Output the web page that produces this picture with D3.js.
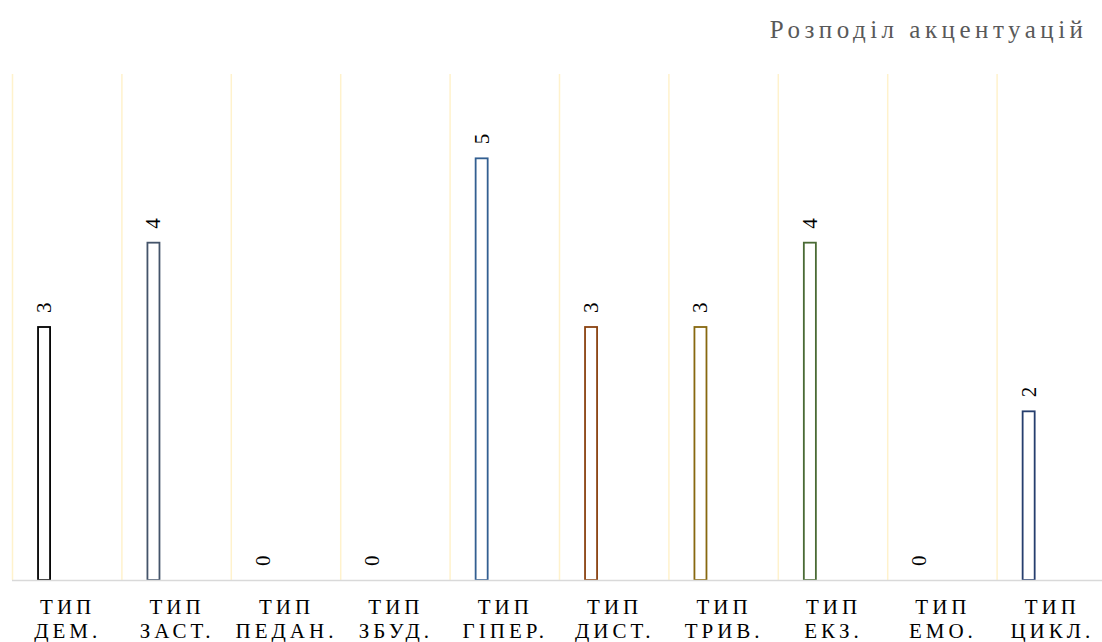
<!DOCTYPE html>
<html>
<head>
<meta charset="utf-8">
<script src="https://cdn.jsdelivr.net/npm/d3@7"></script>
<style>
  html, body { margin: 0; padding: 0; background: #ffffff; }
  svg { display: block; }
</style>
</head>
<body>
<svg id="chart" width="1102" height="642"></svg>
<script>
// Accentuation types (two-line category labels)
const categoryTop = ["ТИП", "ТИП", "ТИП", "ТИП", "ТИП", "ТИП", "ТИП", "ТИП", "ТИП", "ТИП"];
const categoryBottom = ["ДЕМ.", "ЗАСТ.", "ПЕДАН.", "ЗБУД.", "ГІПЕР.", "ДИСТ.", "ТРИВ.", "ЕКЗ.", "ЕМО.", "ЦИКЛ."];
const values = [3, 4, 0, 0, 5, 3, 3, 4, 0, 2];
const barColors = ["#000000", "#44546A", "#A5A5A5", "#7F7F7F", "#335F91", "#8A4210", "#87680F", "#4A6B35", "#5B7FB8", "#263E6E"];
const titleText = "Розподіл акцентуацій";

const svg = d3.select("#chart");
const W = 1102, H = 642;
const plot = { left: 12, right: 1106, top: 74, bottom: 580 };
const serif = "'Liberation Serif', 'Times New Roman', serif";

const keys = d3.range(values.length);
const points = keys.map(i => ({ i, value: values[i], color: barColors[i] }));
const x = d3.scaleBand().domain(keys).range([plot.left, plot.right]).padding(0);
const y = d3.scaleLinear().domain([0, 6]).range([plot.bottom, plot.top]);

// bar placement inside each category band
const barOffset = 0.238, barWidth = 0.11;
const barCenter = i => x(i) + x.bandwidth() * (barOffset + barWidth / 2);

// vertical category separators
svg.append("g")
  .selectAll("line")
  .data(keys)
  .join("line")
  .attr("x1", d => x(d) + 0.5)
  .attr("x2", d => x(d) + 0.5)
  .attr("y1", y(6))
  .attr("y2", y(0))
  .attr("stroke", "#FFF2CC")
  .attr("stroke-width", 1.5);

// bars (outlined)
svg.append("g")
  .selectAll("rect")
  .data(points.filter(p => p.value > 0))
  .join("rect")
  .attr("x", p => x(p.i) + x.bandwidth() * barOffset)
  .attr("y", p => y(p.value))
  .attr("width", x.bandwidth() * barWidth)
  .attr("height", p => y(0) - y(p.value))
  .attr("fill", "#ffffff")
  .attr("stroke", p => p.color)
  .attr("stroke-width", 1.8);

// category axis line
svg.append("line")
  .attr("x1", plot.left)
  .attr("x2", W)
  .attr("y1", y(0) + 0.5)
  .attr("y2", y(0) + 0.5)
  .attr("stroke", "#D9D9D9")
  .attr("stroke-width", 1.5);

// value labels, rotated
svg.append("g")
  .selectAll("text")
  .data(points)
  .join("text")
  .attr("transform", p => `translate(${barCenter(p.i)},${y(p.value) - 14}) rotate(-90)`)
  .attr("text-anchor", "start")
  .attr("dominant-baseline", "central")
  .attr("font-family", serif)
  .attr("font-size", 21)
  .attr("fill", "#000000")
  .text(p => p.value);

// category labels
const ls = 4;
const catG = svg.append("g")
  .attr("font-family", serif)
  .attr("font-size", 21)
  .attr("letter-spacing", ls)
  .attr("fill", "#000000")
  .attr("text-anchor", "middle");

catG.selectAll("text.top")
  .data(categoryTop)
  .join("text")
  .attr("class", "top")
  .attr("x", (d, i) => x(i) + x.bandwidth() / 2 + ls / 2 - 1)
  .attr("y", 614)
  .text(d => d);

catG.selectAll("text.bottom")
  .data(categoryBottom)
  .join("text")
  .attr("class", "bottom")
  .attr("x", (d, i) => x(i) + x.bandwidth() / 2 + ls / 2 - 1)
  .attr("y", 638)
  .text(d => d);

// title
svg.append("text")
  .attr("x", 1083 + 4.5)
  .attr("y", 38)
  .attr("text-anchor", "end")
  .attr("font-family", serif)
  .attr("font-size", 25)
  .attr("letter-spacing", 4.5)
  .attr("fill", "#595959")
  .text(titleText);
</script>
</body>
</html>
